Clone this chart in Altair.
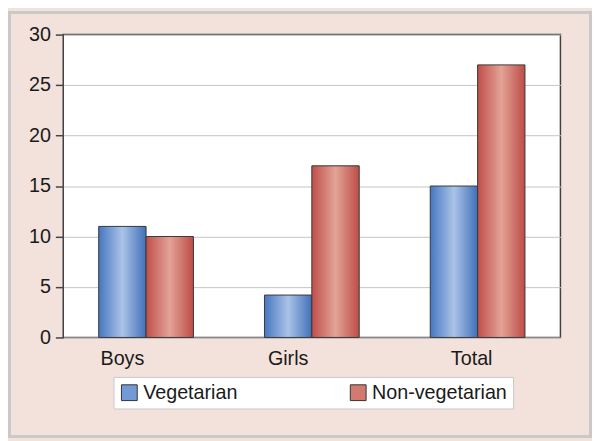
import altair as alt
import pandas as pd

categories = ["Boys", "Girls", "Total"]
series = ["Vegetarian", "Non-vegetarian"]
vegetarian = [11, 4.2, 15]
non_vegetarian = [10, 17, 27]
y_ticks = [0, 5, 10, 15, 20, 25, 30]

rows = []
for c, v, n in zip(categories, vegetarian, non_vegetarian):
    rows.append({"category": c, "series": series[0], "value": v})
    rows.append({"category": c, "series": series[1], "value": n})
df = pd.DataFrame(rows)

FONT = "Liberation Sans"
FS = 20

blue_grad = {
    "gradient": "linear", "x1": 0, "y1": 0, "x2": 1, "y2": 0,
    "stops": [
        {"offset": 0, "color": "#4677c0"},
        {"offset": 0.5, "color": "#abc3e8"},
        {"offset": 1, "color": "#4170b8"},
    ],
}
red_grad = {
    "gradient": "linear", "x1": 0, "y1": 0, "x2": 1, "y2": 0,
    "stops": [
        {"offset": 0, "color": "#c04f4a"},
        {"offset": 0.5, "color": "#e3a396"},
        {"offset": 1, "color": "#bd4c47"},
    ],
}

x_enc = alt.X(
    "category:N", sort=categories, title=None,
    scale=alt.Scale(paddingInner=0.4286, paddingOuter=0.214),
    axis=alt.Axis(
        labelAngle=0, ticks=False, domain=False, grid=False,
        labelFont=FONT, labelFontSize=FS, labelColor="#1a1a1a",
        labelPadding=11,
        labelOffset={"condition": {"test": "datum.value == 'Total'", "value": -6}, "value": -24},
    ),
)
xo_enc = alt.XOffset("series:N", sort=series, scale=alt.Scale(paddingInner=0, paddingOuter=0))
y_enc = alt.Y(
    "value:Q", title=None,
    scale=alt.Scale(domain=[0, 30], nice=False),
    axis=alt.Axis(
        values=y_ticks, domain=False, tickSize=8, tickColor="#444444", tickWidth=1.5,
        labelFont=FONT, labelFontSize=FS, labelColor="#1a1a1a", labelPadding=5,
        grid=True, gridColor="#c4c4c4", gridWidth=1,
    ),
)

base = alt.Chart(df)

legend_layer = base.mark_bar().encode(
    x=x_enc, xOffset=xo_enc, y=y_enc,
    color=alt.Color(
        "series:N", sort=series,
        scale=alt.Scale(domain=series, range=["#739ad6", "#d17a70"]),
        legend=alt.Legend(
            title=None, orient="none", legendX=51, legendY=347,
            direction="horizontal", columns=2, columnPadding=112,
            fillColor="white", strokeColor="#c8c8c8", padding=6,
            symbolType="square", symbolSize=256, symbolStrokeColor="#333333",
            symbolStrokeWidth=1, symbolOpacity=1,
            labelFont=FONT, labelFontSize=FS, labelColor="#1a1a1a", labelOffset=4,
        ),
    ),
)

grad_layer = base.mark_bar(stroke="#3a3a3a", strokeWidth=1).encode(
    x=x_enc, xOffset=xo_enc, y=y_enc,
    color=alt.condition(alt.datum.series == "Vegetarian", alt.value(blue_grad), alt.value(red_grad)),
)

frame = alt.Chart(alt.Data(values=[{"k": 1}])).mark_rect(
    fill=None, stroke="#c9c9c9", strokeWidth=3
).encode(
    x=alt.value(-54.5), x2=alt.value(534.5), y=alt.value(-22.5), y2=alt.value(407.5)
)

chart = alt.layer(legend_layer, grad_layer, frame).properties(
    width=504, height=307,
    background="#f3e2db",
    padding={"left": 56, "top": 24, "right": 32, "bottom": 102},
    autosize=alt.AutoSizeParams(type="none"),
).configure_view(
    stroke="#404040", strokeWidth=1.5, fill="white"
)

chart.save("out.html", embed_options={"renderer": "svg", "actions": False})
